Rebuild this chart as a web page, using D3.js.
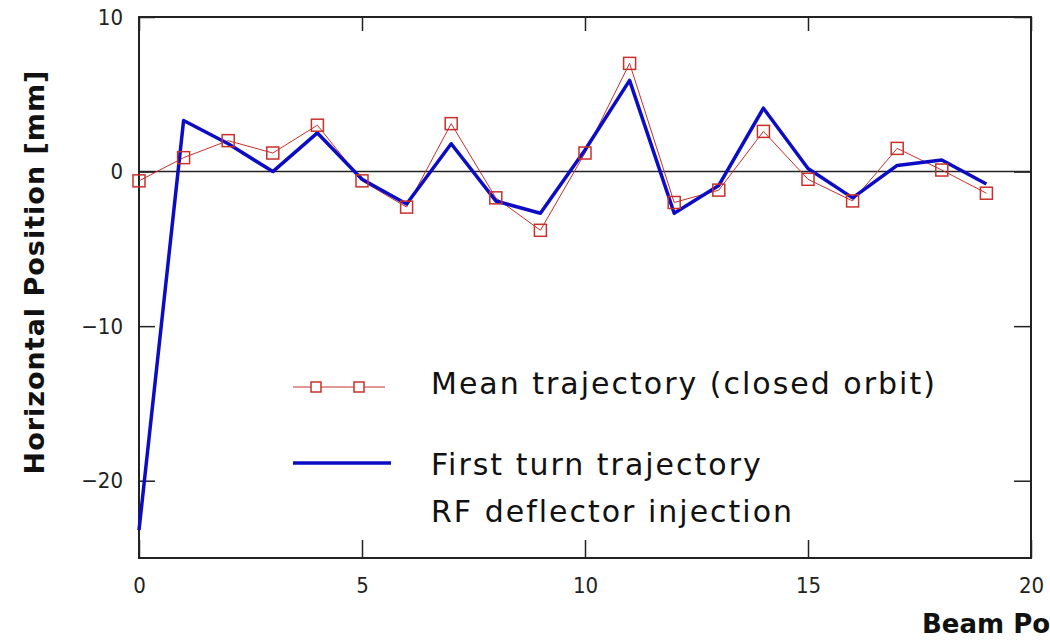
<!DOCTYPE html>
<html>
<head>
<meta charset="utf-8">
<script src="https://cdn.jsdelivr.net/npm/d3@7"></script>
<style>
  body { margin: 0; background: #fff; }
  .tick text { font-family: "Liberation Sans Narrow", "DejaVu Sans Condensed", sans-serif; font-size: 22px; fill: #222; }
  .title { font-family: "DejaVu Sans", sans-serif; font-weight: bold; fill: #111; }
  .leg { font-family: "DejaVu Sans", sans-serif; font-size: 30px; letter-spacing: 2px; fill: #111; }
</style>
</head>
<body>
<div id="chart"></div>
<script>
// beam position monitor index
var positions = [0,1,2,3,4,5,6,7,8,9,10,11,12,13,14,15,16,17,18,19];
// mean trajectory (closed orbit), mm
var meanTraj = [-0.6,0.9,2.0,1.2,3.0,-0.6,-2.3,3.1,-1.7,-3.8,1.2,7.0,-2.0,-1.2,2.6,-0.5,-1.9,1.5,0.1,-1.4];
// first turn trajectory, RF deflector injection, mm
var firstTurn = [-23.2,3.3,1.8,0.0,2.5,-0.5,-2.1,1.8,-1.9,-2.7,1.4,5.9,-2.7,-0.9,4.1,0.2,-1.7,0.4,0.75,-0.8];
var xTicks = [0,5,10,15,20];
var yTicks = [-20,-10,0,10];

var W = 1050, H = 642;
var margin = {top: 17, left: 139, right: 19, bottom: 84};
var width = W - margin.left - margin.right,
    height = H - margin.top - margin.bottom;

var svg = d3.select("#chart").append("svg")
    .attr("width", W)
    .attr("height", H);

var g = svg.append("g")
    .attr("transform", "translate(" + margin.left + "," + margin.top + ")");

var x = d3.scaleLinear().domain([0, 20]).range([0, width]);
var y = d3.scaleLinear().domain([-25, 10]).range([height, 0]);

// axes - ticks point inward
var xAxis = g.append("g")
    .attr("transform", "translate(0," + height + ")")
    .call(d3.axisBottom(x).tickValues(xTicks).tickSize(-18).tickPadding(28));
var xTop = g.append("g")
    .call(d3.axisTop(x).tickValues(xTicks).tickSize(-14).tickFormat(""));
var yAxis = g.append("g")
    .call(d3.axisLeft(y).tickValues(yTicks).tickSize(-16).tickPadding(16)
          .tickFormat(function(d) { return d < 0 ? "\u2212" + Math.abs(d) : d; }));
var yRight = g.append("g")
    .attr("transform", "translate(" + width + ",0)")
    .call(d3.axisRight(y).tickValues(yTicks).tickSize(-17).tickFormat(""));

[xAxis, xTop, yAxis, yRight].forEach(function(a) {
    a.select(".domain").remove();
    a.selectAll(".tick line").attr("stroke", "#222").attr("stroke-width", 1.5);
});
xAxis.selectAll(".tick text").attr("dy", "0.3em");
yAxis.selectAll(".tick text").attr("x", -16);

// frame
g.append("rect")
    .attr("width", width).attr("height", height)
    .attr("fill", "none").attr("stroke", "#222").attr("stroke-width", 2);

// zero line
g.append("line")
    .attr("x1", 0).attr("x2", width)
    .attr("y1", y(0)).attr("y2", y(0))
    .attr("stroke", "#222").attr("stroke-width", 1.5);

var mean = positions.map(function(p, i) { return {x: p, y: meanTraj[i]}; });
var first = positions.map(function(p, i) { return {x: p, y: firstTurn[i]}; });

var line = d3.line()
    .x(function(d) { return x(d.x); })
    .y(function(d) { return y(d.y); });

g.append("path")
    .datum(mean)
    .attr("d", line)
    .attr("fill", "none")
    .attr("stroke", "#c8302a")
    .attr("stroke-width", 1);

g.append("path")
    .datum(first)
    .attr("d", line)
    .attr("fill", "none")
    .attr("stroke", "#0c0cc4")
    .attr("stroke-width", 3.5)
    .attr("stroke-linejoin", "round");

g.selectAll(".sq")
    .data(mean)
    .enter().append("rect")
    .attr("class", "sq")
    .attr("x", function(d) { return x(d.x) - 6; })
    .attr("y", function(d) { return y(d.y) - 6; })
    .attr("width", 12).attr("height", 12)
    .attr("fill", "none")
    .attr("stroke", "#c8302a")
    .attr("stroke-width", 1.5);

// legend
var leg = svg.append("g");
leg.append("line")
    .attr("x1", 293).attr("x2", 385).attr("y1", 387).attr("y2", 387)
    .attr("stroke", "#c8302a").attr("stroke-width", 1);
leg.selectAll(".lsq")
    .data([316, 359])
    .enter().append("rect")
    .attr("x", function(d) { return d - 5; })
    .attr("y", 382)
    .attr("width", 10).attr("height", 10)
    .attr("fill", "#fff")
    .attr("stroke", "#c8302a").attr("stroke-width", 1.5);
leg.append("line")
    .attr("x1", 293).attr("x2", 391).attr("y1", 463).attr("y2", 463)
    .attr("stroke", "#0c0cc4").attr("stroke-width", 3.5);

leg.append("text").attr("class", "leg").attr("x", 431).attr("y", 394)
    .text("Mean trajectory (closed orbit)");
leg.append("text").attr("class", "leg").attr("x", 431).attr("y", 475)
    .text("First turn trajectory");
leg.append("text").attr("class", "leg").attr("x", 431).attr("y", 522)
    .text("RF deflector injection");

// axis titles
svg.append("text")
    .attr("class", "title")
    .attr("transform", "translate(44,272) rotate(-90)")
    .attr("text-anchor", "middle")
    .style("font-size", "27px")
    .style("letter-spacing", "1px")
    .text("Horizontal Position [mm]");

svg.append("text")
    .attr("class", "title")
    .attr("x", 922).attr("y", 633)
    .style("font-size", "26px")
    .text("Beam Po");
</script>
</body>
</html>
